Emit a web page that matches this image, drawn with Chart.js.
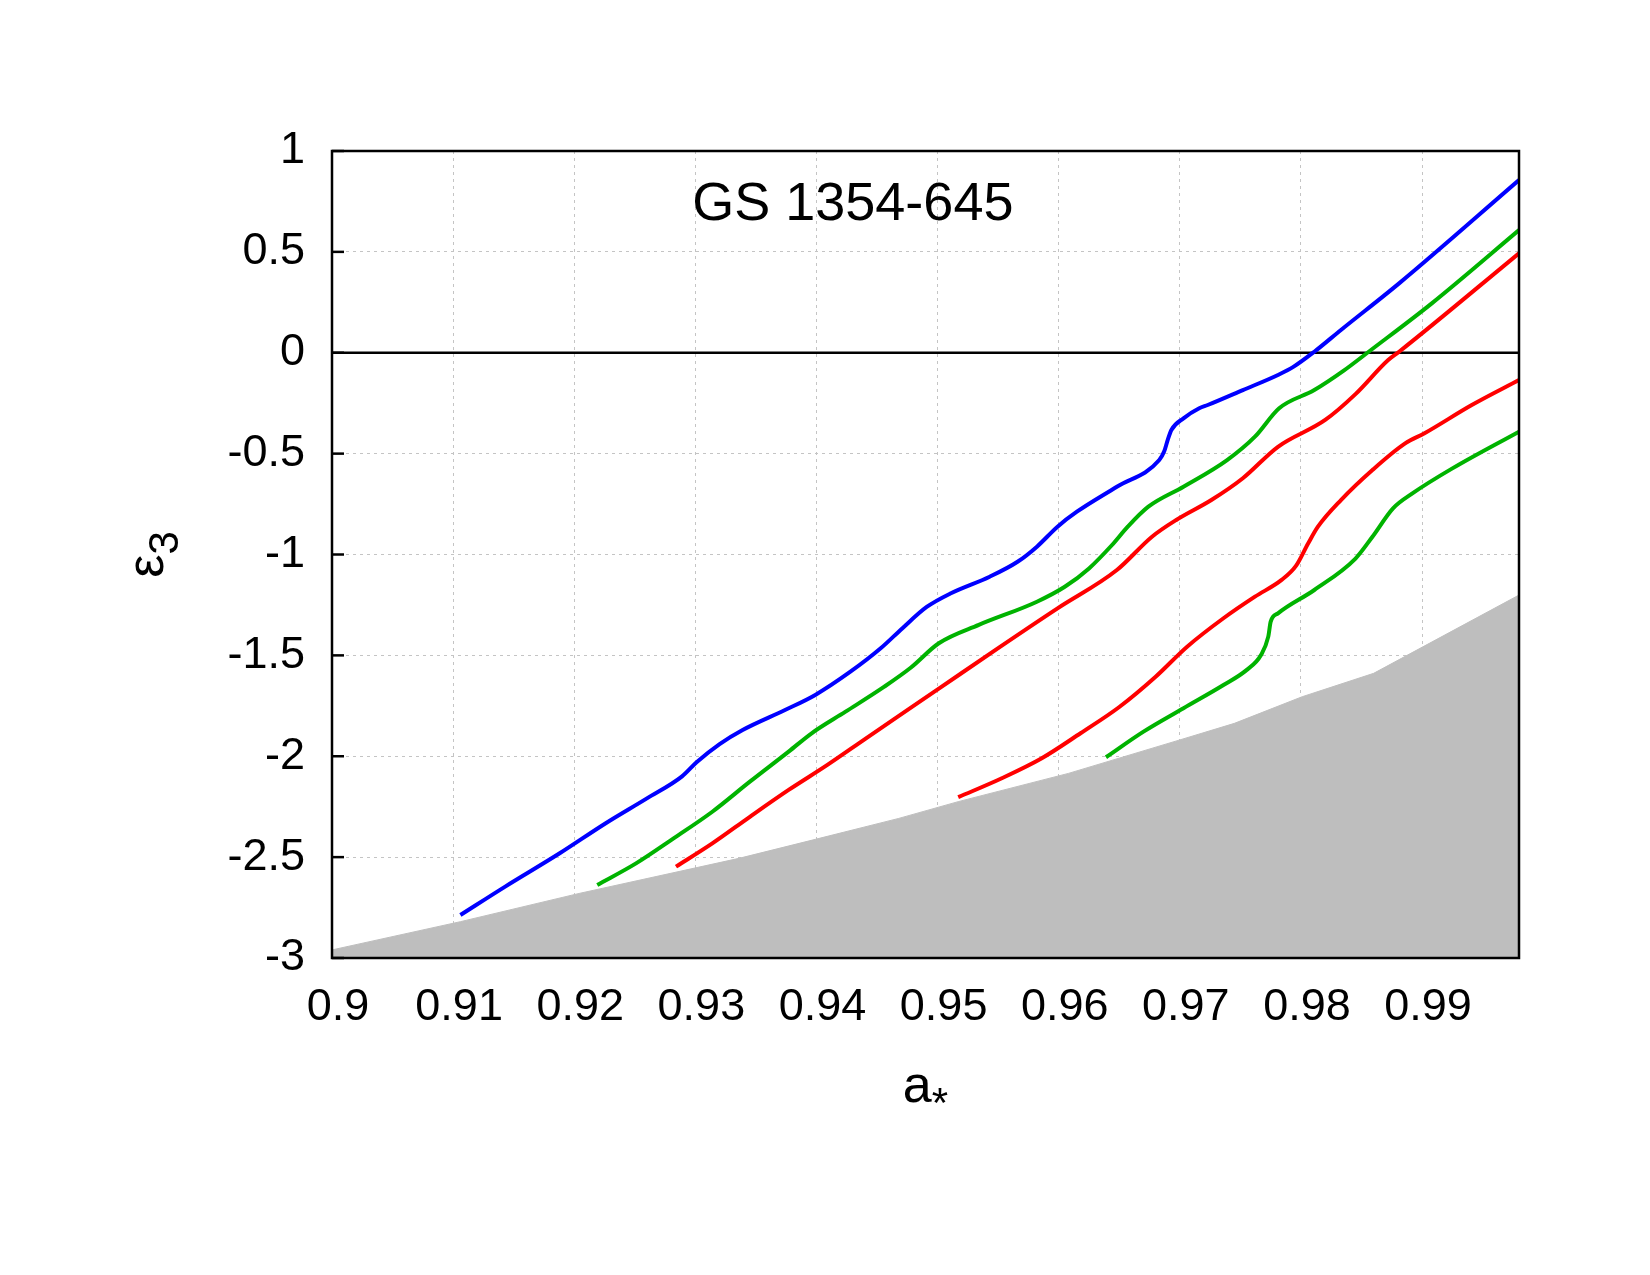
<!DOCTYPE html>
<html><head><meta charset="utf-8">
<script src="https://cdn.jsdelivr.net/npm/chart.js@4.4.1/dist/chart.umd.min.js"></script>
<style>html,body{margin:0;padding:0;background:#fff;} canvas{display:block;}</style>
</head><body>
<canvas id="c" width="1650" height="1275"></canvas>
<script>
// ---- tick values and labels ----
const xTicks = [0.9,0.91,0.92,0.93,0.94,0.95,0.96,0.97,0.98,0.99];
const xTickLabels = ['0.9','0.91','0.92','0.93','0.94','0.95','0.96','0.97','0.98','0.99'];
const yTicks = [-3,-2.5,-2,-1.5,-1,-0.5,0,0.5,1];
const yTickLabels = ['-3','-2.5','-2','-1.5','-1','-0.5','0','0.5','1'];

// ---- texts ----
const titleText = 'GS 1354-645';
const xTitleMain = 'a', xTitleSub = '*';
const yTitleMain = 'ε', yTitleSub = '3';

// ---- series (a*, epsilon_3) ----
const blueX = [0.9106,0.9143,0.9188,0.9226,0.9260,0.9289,0.9301,0.9320,0.9339,0.9374,0.9399,0.9428,0.9453,0.9471,0.9491,0.9511,0.9543,0.9566,0.9582,0.9599,0.9615,0.9648,0.9683,0.9687,0.9690,0.9693,0.9703,0.9716,0.9723,0.9752,0.9781,0.9794,0.9811,0.9833,0.9881,0.9980];
const blueY = [-2.787,-2.646,-2.481,-2.332,-2.209,-2.100,-2.030,-1.940,-1.870,-1.771,-1.696,-1.581,-1.465,-1.365,-1.260,-1.192,-1.110,-1.036,-0.961,-0.862,-0.788,-0.664,-0.532,-0.490,-0.432,-0.383,-0.325,-0.275,-0.259,-0.185,-0.110,-0.069,0.005,0.113,0.344,0.856];

const greenAX = [0.9219,0.9251,0.9282,0.9314,0.9345,0.9377,0.9396,0.9424,0.9456,0.9478,0.9501,0.9534,0.9582,0.9605,0.9625,0.9644,0.9657,0.9674,0.9703,0.9739,0.9762,0.9782,0.9811,0.9835,0.9857,0.9908,0.9980];
const greenAY = [-2.638,-2.531,-2.407,-2.275,-2.126,-1.977,-1.886,-1.779,-1.655,-1.560,-1.440,-1.349,-1.234,-1.160,-1.069,-0.953,-0.862,-0.763,-0.664,-0.532,-0.416,-0.275,-0.185,-0.090,0.010,0.245,0.608];

const redAX = [0.9284,0.9314,0.9345,0.9377,0.9409,0.9440,0.9468,0.9501,0.9550,0.9599,0.9648,0.9677,0.9697,0.9726,0.9752,0.9781,0.9820,0.9845,0.9872,0.9881,0.9980];
const redAY = [-2.547,-2.432,-2.300,-2.167,-2.043,-1.915,-1.800,-1.665,-1.464,-1.267,-1.077,-0.912,-0.829,-0.730,-0.622,-0.466,-0.333,-0.205,-0.036,0.005,0.493];

const redBX = [0.9517,0.9553,0.9586,0.9618,0.9650,0.9680,0.9706,0.9736,0.9762,0.9784,0.9796,0.9806,0.9814,0.9833,0.9859,0.9886,0.9902,0.9941,0.9980];
const redBY = [-2.203,-2.109,-2.010,-1.886,-1.756,-1.606,-1.457,-1.316,-1.209,-1.126,-1.055,-0.944,-0.862,-0.730,-0.581,-0.449,-0.399,-0.259,-0.135];

const greenBX = [0.9639,0.9670,0.9703,0.9736,0.9755,0.9767,0.9773,0.9775,0.9781,0.9811,0.9845,0.9859,0.9876,0.9892,0.9925,0.9980];
const greenBY = [-2.005,-1.878,-1.762,-1.647,-1.573,-1.498,-1.407,-1.333,-1.292,-1.176,-1.020,-0.912,-0.771,-0.697,-0.573,-0.391];

const grayX = [0.9,0.9106,0.9204,0.9336,0.9399,0.9468,0.9517,0.9608,0.9700,0.9745,0.9801,0.9860,0.998];
const grayY = [-2.96,-2.82,-2.68,-2.506,-2.412,-2.308,-2.225,-2.085,-1.919,-1.837,-1.705,-1.589,-1.201];

const zeroX = [0.9,0.998];
const zeroY = [0,0];

const xMin = 0.9, xMax = 0.998, yMin = -3, yMax = 1;
const titleAt = {x: 0.943, y: 0.658};

const FONT = '"Liberation Sans", Arial, Helvetica, sans-serif';
const mk = (xs, ys) => xs.map((v, i) => ({x: v, y: ys[i]}));

function drawSub(ctx, main, sub, cx, baseY, rot) {
  ctx.save();
  ctx.translate(cx, baseY);
  ctx.rotate(rot);
  const fMain = '52px ' + FONT, fSub = '42px ' + FONT;
  ctx.font = fMain; const w1 = ctx.measureText(main).width;
  ctx.font = fSub; const w2 = ctx.measureText(sub).width;
  const x0 = -(w1 + w2) / 2;
  ctx.textAlign = 'left'; ctx.textBaseline = 'alphabetic'; ctx.fillStyle = '#000';
  ctx.font = fMain; ctx.fillText(main, x0, 0);
  ctx.font = fSub; ctx.fillText(sub, x0 + w1, 15);
  ctx.restore();
}

const decor = {
  id: 'decor',
  afterDatasetsDraw(chart) {
    const {ctx, chartArea: a, scales: {x, y}} = chart;
    ctx.save();
    ctx.strokeStyle = '#000';
    ctx.lineWidth = 2.5;
    yTicks.forEach(v => {
      const py = y.getPixelForValue(v);
      ctx.beginPath(); ctx.moveTo(a.left, py); ctx.lineTo(a.left + 12, py); ctx.stroke();
    });
    ctx.strokeRect(a.left, a.top, a.right - a.left, a.bottom - a.top);
    ctx.fillStyle = '#000';
    ctx.font = '54px ' + FONT;
    ctx.textAlign = 'center'; ctx.textBaseline = 'alphabetic';
    ctx.fillText(titleText, x.getPixelForValue(titleAt.x), y.getPixelForValue(titleAt.y));
    ctx.restore();
    drawSub(ctx, xTitleMain, xTitleSub, (a.left + a.right) / 2, a.bottom + 144, 0);
    drawSub(ctx, yTitleMain, yTitleSub, a.left - 169, (a.top + a.bottom) / 2, -Math.PI / 2);
  }
};

const line = (label, xs, ys, color) => ({
  label, data: mk(xs, ys), borderColor: color, borderWidth: 4, pointRadius: 0,
  cubicInterpolationMode: 'monotone', fill: false, order: 0
});

new Chart(document.getElementById('c'), {
  type: 'line',
  data: {
    datasets: [
      line('blue', blueX, blueY, '#0000ff'),
      line('greenA', greenAX, greenAY, '#00b300'),
      line('redA', redAX, redAY, '#ff0000'),
      line('redB', redBX, redBY, '#ff0000'),
      line('greenB', greenBX, greenBY, '#00b300'),
      {label: 'zero', data: mk(zeroX, zeroY), borderColor: '#000', borderWidth: 2.5, pointRadius: 0, fill: false, order: 5},
      {label: 'excluded', data: mk(grayX, grayY), borderColor: '#bebebe', borderWidth: 1, backgroundColor: '#bebebe',
       fill: 'start', pointRadius: 0, tension: 0, order: 10}
    ]
  },
  options: {
    responsive: false, animation: false, devicePixelRatio: 1,
    layout: {padding: {left: 0, top: 151, right: 131, bottom: 0}},
    plugins: {legend: {display: false}, tooltip: {enabled: false}},
    scales: {
      x: {
        type: 'linear', min: xMin, max: xMax,
        afterBuildTicks: s => { s.ticks = xTicks.map(v => ({value: v})); },
        afterFit: s => { s.height = 317; },
        ticks: {callback: (v, i) => xTickLabels[i], font: {size: 45, family: FONT}, color: '#000',
                padding: 23, labelOffset: 6, maxRotation: 0, autoSkip: false},
        grid: {color: '#c4c4c4', lineWidth: 1, drawTicks: false},
        border: {display: false, dash: [3, 4]}
      },
      y: {
        type: 'linear', min: yMin, max: yMax,
        afterBuildTicks: s => { s.ticks = yTicks.map(v => ({value: v})); },
        afterFit: s => { s.width = 332; },
        ticks: {callback: (v, i) => yTickLabels[i], font: {size: 45, family: FONT}, color: '#000',
                padding: 27, autoSkip: false},
        grid: {color: '#c4c4c4', lineWidth: 1, drawTicks: false},
        border: {display: false, dash: [3, 4]}
      }
    }
  },
  plugins: [decor]
});
</script>
</body></html>
